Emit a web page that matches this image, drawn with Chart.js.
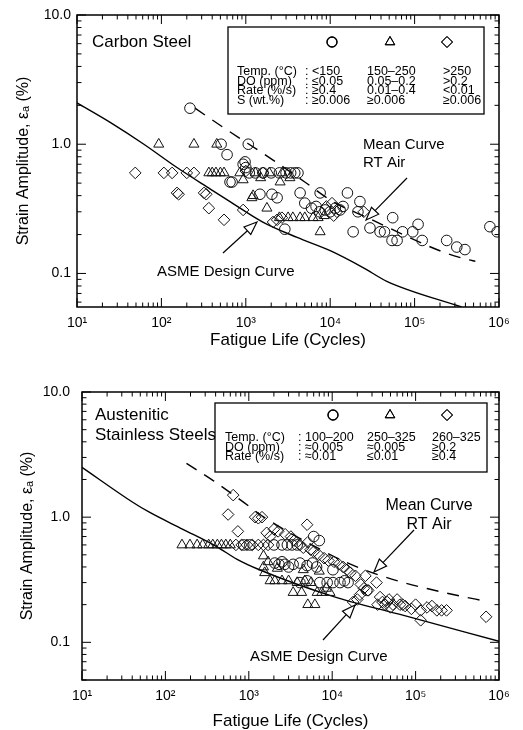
<!DOCTYPE html>
<html lang="en">
<head>
<meta charset="UTF-8">
<title>Fatigue Life: Carbon Steel and Austenitic Stainless Steels</title>
<script src="https://cdn.jsdelivr.net/npm/chart.js@4.4.1/dist/chart.umd.min.js"></script>
<style>
    body { margin: 0; background: #fff; width: 523px; height: 730px; overflow: hidden; }
    canvas { position: absolute; left: 0; }
    #csChart { top: 0; }
    #ssChart { top: 355px; }
</style>
</head>
<body>
<canvas id="csChart" width="523" height="355"></canvas>
<canvas id="ssChart" width="523" height="375"></canvas>
<script>
// --- Axis labels ---
const xTickValues = [10, 100, 1000, 10000, 100000, 1000000];
const xTickText = ['10\u00b9', '10\u00b2', '10\u00b3', '10\u2074', '10\u2075', '10\u2076'];
const yTickValues = [0.1, 1, 10];
const yTickText = ['0.1', '1.0', '10.0'];

// --- Carbon steel: [cycles, strain amplitude %] ---
const csCircles = [
    [218, 1.9], [510, 1.0], [1070, 1.0], [600, 0.83], [980, 0.73], [930, 0.70], [1000, 0.66],
    [650, 0.51], [688, 0.51], [1100, 0.6], [1300, 0.6], [1600, 0.6], [2000, 0.6], [2500, 0.6],
    [3000, 0.6], [3400, 0.6], [3800, 0.6], [4150, 0.6], [1470, 0.41], [2040, 0.41], [2350, 0.385],
    [4400, 0.42], [7600, 0.42], [16000, 0.42], [2900, 0.22], [5000, 0.35], [6000, 0.32],
    [6800, 0.33], [7500, 0.30], [8700, 0.31], [10000, 0.30], [11500, 0.32], [13100, 0.31],
    [14200, 0.33], [22500, 0.36], [21300, 0.30], [18700, 0.21], [29600, 0.225], [39000, 0.21],
    [44000, 0.21], [55000, 0.27], [54000, 0.18], [62000, 0.18], [72000, 0.21], [95000, 0.21],
    [110000, 0.24], [123000, 0.18], [240000, 0.18], [316000, 0.16], [395000, 0.153],
    [780000, 0.23], [950000, 0.21]
];
const csTriangles = [
    [93, 1.0], [243, 1.0], [453, 1.0], [365, 0.6], [400, 0.6], [443, 0.6], [500, 0.6], [552, 0.6],
    [850, 0.6], [1300, 0.6], [1900, 0.6], [2700, 0.6], [930, 0.53], [1500, 0.55], [2550, 0.51],
    [3330, 0.55], [1180, 0.385], [1220, 0.40], [1780, 0.32], [2500, 0.27], [3170, 0.27],
    [3610, 0.27], [4400, 0.27], [5000, 0.27], [6250, 0.27], [7200, 0.27], [7600, 0.21], [8500, 0.28]
];
const csDiamonds = [
    [49, 0.6], [107, 0.6], [134, 0.6], [200, 0.6], [243, 0.6], [153, 0.42], [160, 0.41],
    [320, 0.42], [340, 0.41], [365, 0.32], [552, 0.26], [930, 0.31], [2100, 0.25], [2350, 0.26],
    [2680, 0.27], [1000, 0.62], [1600, 0.6], [9000, 0.33], [10500, 0.35], [12000, 0.30],
    [11000, 0.28], [25000, 0.30]
];
const csAsme = [
    [10, 2.09], [25, 1.47], [62, 1.0], [153, 0.66], [380, 0.45], [650, 0.36], [1590, 0.25],
    [4050, 0.19], [10000, 0.15], [24500, 0.111], [46800, 0.087], [360000, 0.055]
];
const csMean = [
    [250, 1.9], [550, 1.34], [2340, 0.72], [5000, 0.51], [10700, 0.36], [27500, 0.27],
    [209000, 0.148], [427000, 0.128], [525000, 0.124]
];

// --- Austenitic stainless steels ---
const ssCircles = [
    [870, 0.6], [1030, 0.6], [2000, 0.6], [2500, 0.6], [2900, 0.6], [3300, 0.6], [3800, 0.6],
    [2050, 0.43], [2300, 0.42], [2500, 0.44], [2700, 0.42], [3000, 0.40], [3400, 0.42],
    [4100, 0.43], [5000, 0.41], [5800, 0.43], [6500, 0.40], [4100, 0.30], [5000, 0.31],
    [7100, 0.30], [8700, 0.30], [10200, 0.30], [12400, 0.30], [14000, 0.31], [15500, 0.30],
    [6000, 0.70], [7000, 0.65], [10200, 0.38], [26000, 0.26]
];
const ssTriangles = [
    [158, 0.6], [197, 0.6], [240, 0.6], [280, 0.6], [330, 0.6], [370, 0.6], [420, 0.6],
    [470, 0.6], [530, 0.6], [600, 0.6], [1500, 0.49], [1500, 0.40], [1550, 0.36], [1800, 0.31],
    [2050, 0.31], [2500, 0.31], [3000, 0.31], [3400, 0.25], [3800, 0.30], [4300, 0.25],
    [4700, 0.31], [5100, 0.20], [5600, 0.30], [6200, 0.20], [6600, 0.25], [7500, 0.25],
    [8500, 0.27], [9400, 0.25], [1700, 0.44], [2200, 0.39], [4500, 0.38], [7000, 0.37]
];
const ssDiamonds = [
    [650, 1.5], [565, 1.05], [1190, 1.0], [1440, 1.0], [1300, 0.98], [740, 0.77], [1640, 0.75],
    [2250, 0.77], [2730, 0.73], [2000, 0.8], [1800, 0.7], [3200, 0.7], [5000, 0.87], [5100, 0.63],
    [700, 0.6], [820, 0.6], [950, 0.6], [1100, 0.6], [1300, 0.6], [1500, 0.6], [1700, 0.6],
    [3500, 0.65], [4100, 0.6], [4500, 0.57], [5500, 0.55], [6000, 0.53], [6900, 0.5],
    [8000, 0.47], [9000, 0.45], [10500, 0.44], [12000, 0.42], [13500, 0.40], [15000, 0.38],
    [16500, 0.36], [19000, 0.34], [25000, 0.34], [34000, 0.30], [22000, 0.29], [24000, 0.27],
    [27000, 0.26], [17800, 0.21], [20000, 0.22], [21500, 0.24], [37500, 0.23], [45700, 0.21],
    [53500, 0.2], [60000, 0.22], [65000, 0.2], [75000, 0.195], [89000, 0.185], [100000, 0.2],
    [115000, 0.18], [137000, 0.19], [157000, 0.195], [180000, 0.18], [205000, 0.18],
    [235000, 0.18], [115000, 0.15], [700000, 0.16], [43000, 0.2], [48000, 0.22], [35000, 0.2],
    [40000, 0.21], [50000, 0.19], [70000, 0.2]
];
const ssAsme = [
    [10, 2.5], [41, 1.31], [65, 1.09], [162, 0.80], [415, 0.58], [725, 0.46], [1340, 0.38],
    [10200, 0.233], [65000, 0.167], [1000000, 0.102]
];
const ssMean = [
    [179, 2.69], [378, 1.95], [784, 1.38], [1630, 0.97], [6950, 0.56], [14200, 0.44],
    [30000, 0.36], [65000, 0.306], [137000, 0.269], [281000, 0.241], [718000, 0.212]
];

// --- Legend table text ---
const csLegendRows = [
    ['Temp. (\u00b0C)', '<150', '150\u2013250', '>250'],
    ['DO (ppm)', '\u22640.05', '0.05\u20130.2', '>0.2'],
    ['Rate (%/s)', '\u22650.4', '0.01\u20130.4', '<0.01'],
    ['S (wt.%)', '\u22650.006', '\u22650.006', '\u22650.006']
];
const ssLegendRows = [
    ['Temp. (\u00b0C)', '100\u2013200', '250\u2013325', '260\u2013325'],
    ['DO (ppm)', '\u22480.005', '\u22480.005', '\u22650.2'],
    ['Rate (%/s)', '\u22480.01', '\u22640.01', '\u22650.4']
];

const FONT = '"Liberation Sans", Arial, Helvetica, sans-serif';
Chart.defaults.font.family = FONT;
Chart.defaults.color = '#000';

const toXY = arr => arr.map(p => ({ x: p[0], y: p[1] }));
const isDecade = v => Math.abs(Math.log10(v) - Math.round(Math.log10(v))) < 1e-6;

function logTicks(min, max) {
    const out = [];
    for (let k = -3; k <= 7; k++) {
        for (let m = 1; m <= 9; m++) {
            const v = +(m * Math.pow(10, k)).toPrecision(6);
            if (v >= min * 0.9999 && v <= max * 1.0001) out.push(v);
        }
    }
    return out;
}

function pointSet(label, data, style, r) {
    return {
        type: 'scatter', label, data: toXY(data), pointStyle: style, pointRadius: r,
        backgroundColor: 'rgba(255,255,255,0)', borderColor: '#111', borderWidth: 1, order: 1
    };
}
function curveSet(label, data, dashed) {
    return {
        type: 'line', label, data: toXY(data), pointRadius: 0, borderColor: '#000',
        borderWidth: 1.4, borderDash: dashed ? [12, 9] : [], fill: false,
        cubicInterpolationMode: 'monotone', order: 2
    };
}

// inward tick marks on all four sides plus the frame
const framePlugin = {
    id: 'frame',
    afterDatasetsDraw(chart) {
        const { ctx, chartArea: a, scales: { x, y } } = chart;
        ctx.save();
        ctx.strokeStyle = '#000';
        ctx.lineWidth = 1;
        ctx.beginPath();
        x.ticks.forEach(t => {
            const px = x.getPixelForValue(t.value);
            const len = isDecade(t.value) ? 9 : 4.5;
            ctx.moveTo(px, a.bottom); ctx.lineTo(px, a.bottom - len);
            ctx.moveTo(px, a.top); ctx.lineTo(px, a.top + len);
        });
        y.ticks.forEach(t => {
            const py = y.getPixelForValue(t.value);
            const len = isDecade(t.value) ? 9 : 4.5;
            ctx.moveTo(a.left, py); ctx.lineTo(a.left + len, py);
            ctx.moveTo(a.right, py); ctx.lineTo(a.right - len, py);
        });
        ctx.stroke();
        ctx.lineWidth = 1.5;
        ctx.strokeRect(a.left, a.top, a.right - a.left, a.bottom - a.top);
        ctx.restore();
    }
};

function drawArrow(ctx, x1, y1, x2, y2) {
    const ang = Math.atan2(y2 - y1, x2 - x1);
    const L = 13, W = 5;
    const bx = x2 - L * Math.cos(ang), by = y2 - L * Math.sin(ang);
    ctx.beginPath(); ctx.moveTo(x1, y1); ctx.lineTo(bx, by); ctx.stroke();
    ctx.beginPath();
    ctx.moveTo(x2, y2);
    ctx.lineTo(bx + W * Math.sin(ang), by - W * Math.cos(ang));
    ctx.lineTo(bx - W * Math.sin(ang), by + W * Math.cos(ang));
    ctx.closePath();
    ctx.fillStyle = '#fff'; ctx.fill(); ctx.stroke();
}

// text, legend table and arrows for one panel
function notesPlugin(n) {
    return {
        id: 'notes',
        afterDraw(chart) {
            const ctx = chart.ctx;
            ctx.save();
            ctx.fillStyle = '#000';
            ctx.strokeStyle = '#000';
            ctx.textBaseline = 'middle';
            n.texts.forEach(t => {
                ctx.font = t.size + 'px ' + FONT;
                ctx.textAlign = t.align || 'left';
                ctx.fillStyle = '#000';
                ctx.fillText(t.t, t.x, t.y);
            });
            // legend box
            const b = n.box;
            ctx.fillStyle = '#fff';
            ctx.fillRect(b[0], b[1], b[2] - b[0], b[3] - b[1]);
            ctx.lineWidth = 1.3;
            ctx.strokeRect(b[0], b[1], b[2] - b[0], b[3] - b[1]);
            ['circle', 'triangle', 'rectRot'].forEach((s, i) => {
                Chart.helpers.drawPoint(ctx, { pointStyle: s, radius: s === 'circle' ? 5 : 5.5, borderWidth: 1 }, n.symX[i], n.symY);
                ctx.strokeStyle = '#000';
                ctx.lineWidth = 1;
                ctx.stroke();
            });
            ctx.fillStyle = '#000';
            ctx.font = '12.5px ' + FONT;
            ctx.textAlign = 'left';
            n.rows.forEach((r, i) => {
                const yy = n.rowY[i];
                ctx.fillText(r[0], n.colX[0], yy);
                ctx.fillText(':', n.colX[1], yy);
                ctx.fillText(r[1], n.colX[2], yy);
                ctx.fillText(r[2], n.colX[3], yy);
                ctx.fillText(r[3], n.colX[4], yy);
            });
            ctx.lineWidth = 1.2;
            n.arrows.forEach(a => drawArrow(ctx, a[0], a[1], a[2], a[3]));
            ctx.restore();
        }
    };
}

function makeChart(id, cfg) {
    const yT = logTicks(cfg.yMin, 10);
    const xT = logTicks(10, 1e6);
    return new Chart(document.getElementById(id), {
        data: {
            datasets: [
                curveSet('ASME Design Curve', cfg.asme, false),
                curveSet('Mean Curve RT Air', cfg.mean, true),
                pointSet('Circle', cfg.circles, 'circle', 5.3),
                pointSet('Triangle', cfg.triangles, 'triangle', 5.8),
                pointSet('Diamond', cfg.diamonds, 'rectRot', 5.8)
            ]
        },
        options: {
            responsive: false,
            animation: false,
            devicePixelRatio: 1,
            layout: { padding: { left: 0, right: 24, top: cfg.top, bottom: 0 } },
            plugins: { legend: { display: false }, tooltip: { enabled: false } },
            scales: {
                x: {
                    type: 'logarithmic', min: 10, max: 1e6, position: 'bottom',
                    grid: { display: false, drawTicks: false }, border: { display: false },
                    afterBuildTicks: s => { s.ticks = xT.map(v => ({ value: v, major: isDecade(v) })); },
                    afterFit: s => { s.height = cfg.xHeight; },
                    ticks: {
                        autoSkip: false, maxRotation: 0, padding: 8, font: { size: 14 },
                        callback: v => isDecade(v) ? xTickText[xTickValues.indexOf(Math.round(v))] : ''
                    },
                    title: {
                        display: true, text: 'Fatigue Life (Cycles)',
                        font: { size: 17, lineHeight: 1 }, padding: { top: 0, bottom: cfg.xTitlePad }
                    }
                },
                y: {
                    type: 'logarithmic', min: cfg.yMin, max: 10, position: 'left',
                    grid: { display: false, drawTicks: false }, border: { display: false },
                    afterBuildTicks: s => { s.ticks = yT.map(v => ({ value: v, major: isDecade(v) })); },
                    afterFit: s => { s.width = cfg.left; },
                    ticks: {
                        autoSkip: false, padding: cfg.yPad, font: { size: 14 },
                        callback: v => {
                            const i = yTickValues.findIndex(t => Math.abs(t - v) < 1e-9);
                            return i >= 0 ? yTickText[i] : '';
                        }
                    },
                    title: {
                        display: true, text: 'Strain Amplitude, \u03b5\u2090 (%)',
                        font: { size: 16, lineHeight: 1.2 }, padding: { top: cfg.yTitlePad, bottom: 0 }
                    }
                }
            }
        },
        plugins: [framePlugin, notesPlugin(cfg.notes)]
    });
}

makeChart('csChart', {
    circles: csCircles, triangles: csTriangles, diamonds: csDiamonds, asme: csAsme, mean: csMean,
    yMin: 0.055, top: 15, left: 77, xHeight: 48, yPad: 6, yTitlePad: 14, xTitlePad: 6,
    notes: {
        texts: [
            { t: 'Carbon Steel', x: 92, y: 42, size: 17 },
            { t: 'Mean Curve', x: 363, y: 145, size: 15 },
            { t: 'RT Air', x: 363, y: 163, size: 15 },
            { t: 'ASME Design Curve', x: 157, y: 272, size: 15 }
        ],
        box: [228, 27, 484, 114],
        symX: [332, 390, 447], symY: 42,
        rows: csLegendRows, rowY: [72, 81.5, 91, 100.5],
        colX: [237, 305, 312, 367, 443],
        arrows: [[407, 178, 366, 220], [223, 253, 257, 222]]
    }
});

makeChart('ssChart', {
    circles: ssCircles, triangles: ssTriangles, diamonds: ssDiamonds, asme: ssAsme, mean: ssMean,
    yMin: 0.05, top: 37, left: 82, xHeight: 50, yPad: 12, yTitlePad: 18, xTitlePad: 0,
    notes: {
        texts: [
            { t: 'Austenitic', x: 95, y: 60, size: 17 },
            { t: 'Stainless Steels', x: 95, y: 80, size: 17 },
            { t: 'Mean Curve', x: 429, y: 151, size: 16, align: 'center' },
            { t: 'RT Air', x: 429, y: 170, size: 16, align: 'center' },
            { t: 'ASME Design Curve', x: 250, y: 302, size: 15 }
        ],
        box: [215, 48, 487, 117],
        symX: [333, 390, 447], symY: 60,
        rows: ssLegendRows, rowY: [83, 92.5, 102],
        colX: [225, 298, 305, 367, 432],
        arrows: [[414, 175, 374, 217], [323, 285, 355, 250]]
    }
});
</script>
</body>
</html>
